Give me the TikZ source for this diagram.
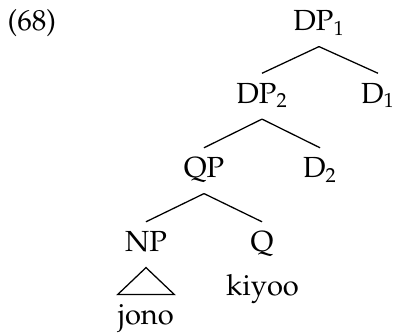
\documentclass[tikz,border=0pt]{standalone}
\usepackage[T1]{fontenc}
\usepackage{palatino}
\begin{document}
\begin{tikzpicture}[x=.55pt, y=-.55pt, line width=.7pt,
    font=\fontsize{16}{19}\selectfont,
    cat/.style={inner sep=0pt, anchor=base, text height=16pt, text depth=8.5pt}]
\useasboundingbox (0,0) rectangle (394,332);
\node[anchor=base west, inner sep=0pt] (ex) at (7,30.5) {(68)};
% the tree
\node[cat] (dpa) at (319,30.5) {DP\textsubscript{1}};
\node[cat] (dpb) at (262,103) {DP\textsubscript{2}};
\node[cat] (da) at (378,103) {D\textsubscript{1}};
\node[cat] (qp) at (204,177.5) {QP};
\node[cat] (db) at (320,177.5) {D\textsubscript{2}};
\node[cat] (np) at (146,251.5) {NP};
\node[cat] (q) at (262,251.5) {Q};
\node[cat] (jono) at (146,324.3) {jono};
\node[anchor=base, inner sep=0pt] (kiyoo) at (262.5,295.7) {kiyoo};

\foreach \a/\b in {dpa/dpb, dpa/da, dpb/qp, dpb/db, qp/np, qp/q}
{
    \draw (\a.south)--(\b.north);
}
\draw (np.south)--(jono.north west)--(jono.north east)--cycle;
\end{tikzpicture}
\end{document}
